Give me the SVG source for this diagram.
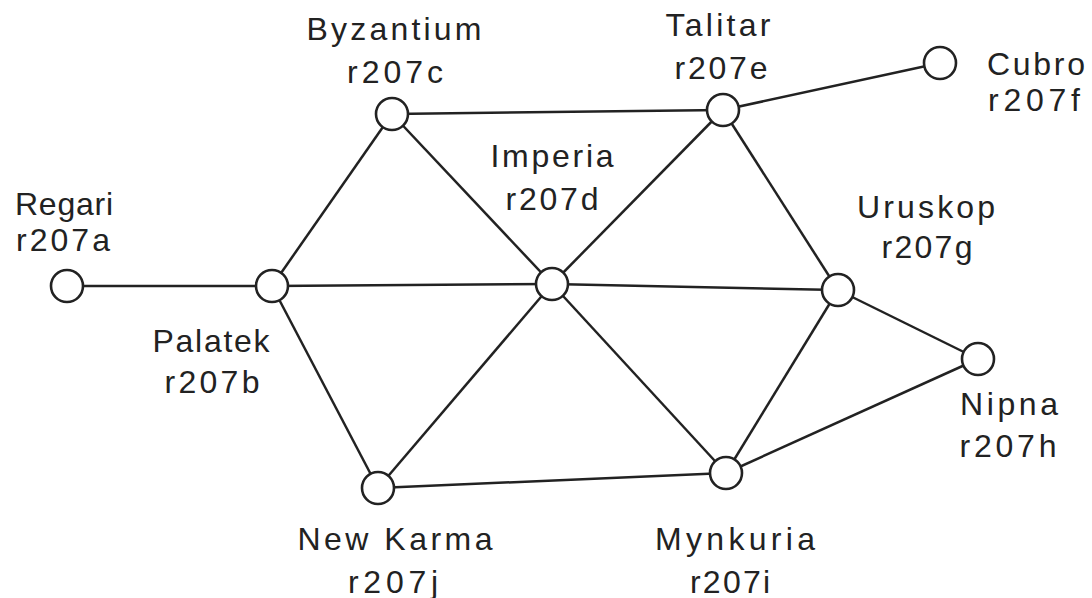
<svg xmlns="http://www.w3.org/2000/svg" width="1092" height="598" viewBox="0 0 1092 598">
<style>
.edge{stroke:#222;stroke-width:2.5;fill:none}
.node circle{fill:#fff;stroke:#222;stroke-width:2.6}
.node text{font-family:"Liberation Sans",Arial,sans-serif;font-size:32px;fill:#222;text-anchor:middle}
</style>
<rect width="1092" height="598" fill="#fff"/>
<g id="connectors">
<line class="edge" x1="67" y1="286" x2="272" y2="286"/>
<line class="edge" x1="272" y1="286" x2="392" y2="114"/>
<line class="edge" x1="272" y1="286" x2="552" y2="284"/>
<line class="edge" x1="272" y1="286" x2="378" y2="488"/>
<line class="edge" x1="392" y1="114" x2="723" y2="110"/>
<line class="edge" x1="392" y1="114" x2="552" y2="284"/>
<line class="edge" x1="552" y1="284" x2="723" y2="110"/>
<line class="edge" x1="552" y1="284" x2="838" y2="290"/>
<line class="edge" x1="552" y1="284" x2="726" y2="473"/>
<line class="edge" x1="552" y1="284" x2="378" y2="488"/>
<line class="edge" x1="723" y1="110" x2="940" y2="63"/>
<line class="edge" x1="723" y1="110" x2="838" y2="290"/>
<line class="edge" x1="838" y1="290" x2="978" y2="359"/>
<line class="edge" x1="838" y1="290" x2="726" y2="473"/>
<line class="edge" x1="978" y1="359" x2="726" y2="473"/>
<line class="edge" x1="378" y1="488" x2="726" y2="473"/>
</g>
<g id="r207a" class="node"><circle cx="67" cy="286" r="16"/><text x="64" y="215" textLength="98" lengthAdjust="spacing">Regari</text><text x="63" y="251" textLength="94" lengthAdjust="spacing">r207a</text></g>
<g id="r207b" class="node"><circle cx="272" cy="286" r="16"/><text x="211" y="352" textLength="117" lengthAdjust="spacing">Palatek</text><text x="212" y="393" textLength="95" lengthAdjust="spacing">r207b</text></g>
<g id="r207c" class="node"><circle cx="392" cy="114" r="16"/><text x="394" y="40" textLength="175" lengthAdjust="spacing">Byzantium</text><text x="395" y="83" textLength="96" lengthAdjust="spacing">r207c</text></g>
<g id="r207d" class="node"><circle cx="552" cy="284" r="16"/><text x="552" y="167" textLength="123" lengthAdjust="spacing">Imperia</text><text x="552" y="210" textLength="93" lengthAdjust="spacing">r207d</text></g>
<g id="r207e" class="node"><circle cx="723" cy="110" r="16"/><text x="718" y="36" textLength="105" lengthAdjust="spacing">Talitar</text><text x="721" y="79" textLength="93" lengthAdjust="spacing">r207e</text></g>
<g id="r207f" class="node"><circle cx="940" cy="63" r="16"/><text x="1036" y="75" textLength="98" lengthAdjust="spacing">Cubro</text><text x="1034" y="111" textLength="92" lengthAdjust="spacing">r207f</text></g>
<g id="r207g" class="node"><circle cx="838" cy="290" r="16"/><text x="926" y="218" textLength="138" lengthAdjust="spacing">Uruskop</text><text x="927" y="258" textLength="91" lengthAdjust="spacing">r207g</text></g>
<g id="r207h" class="node"><circle cx="978" cy="359" r="16"/><text x="1009" y="415" textLength="98" lengthAdjust="spacing">Nipna</text><text x="1008" y="457" textLength="97" lengthAdjust="spacing">r207h</text></g>
<g id="r207i" class="node"><circle cx="726" cy="473" r="16"/><text x="735" y="550" textLength="160" lengthAdjust="spacing">Mynkuria</text><text x="730" y="593" textLength="80" lengthAdjust="spacing">r207i</text></g>
<g id="r207j" class="node"><circle cx="378" cy="488" r="16"/><text x="395" y="550" textLength="195" lengthAdjust="spacing">New Karma</text><text x="393" y="593" textLength="90" lengthAdjust="spacing">r207j</text></g>
</svg>
